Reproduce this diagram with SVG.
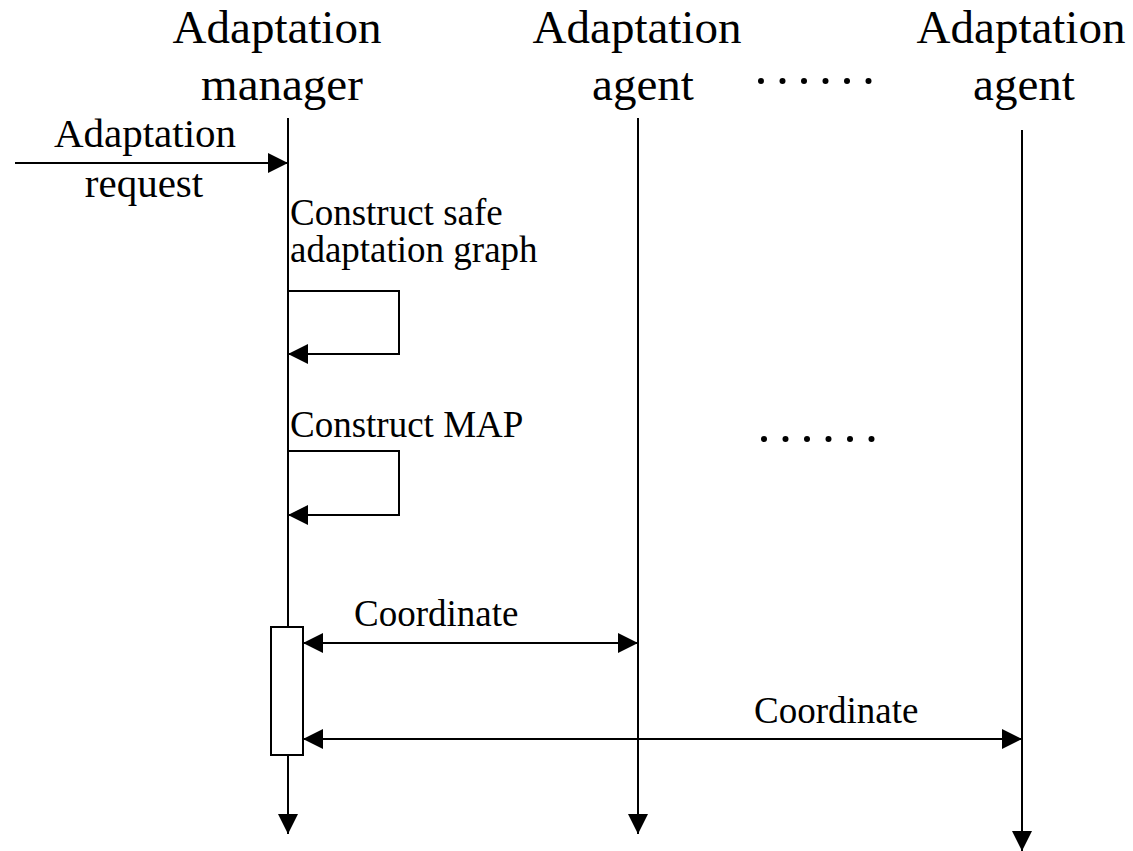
<svg xmlns="http://www.w3.org/2000/svg" width="1133" height="851" viewBox="0 0 1133 851">
<style>
text{font-family:"Liberation Serif","Times New Roman",serif;fill:#000}
.h{font-size:47px;text-anchor:middle}
.s{font-size:37px}
.r{font-size:41px;text-anchor:middle}
.ln{stroke:#000;stroke-width:2;fill:none}
</style>
<defs>
<marker id="ah" markerUnits="userSpaceOnUse" markerWidth="20" markerHeight="20" refX="20" refY="10" orient="auto-start-reverse" viewBox="0 0 20 20">
<path d="M0,0 L20,10 L0,20 z" fill="#000"/>
</marker>
<g id="dots"><circle cx="0" cy="0" r="3"/><circle cx="21.5" cy="0" r="3"/><circle cx="43" cy="0" r="3"/><circle cx="64.5" cy="0" r="3"/><circle cx="86" cy="0" r="3"/><circle cx="107.5" cy="0" r="3"/></g>
</defs>
<rect width="1133" height="851" fill="#fff"/>
<g id="manager">
<text class="h" x="277" y="43">Adaptation</text>
<text class="h" x="282" y="100">manager</text>
</g>
<g id="agent1">
<text class="h" x="637" y="43">Adaptation</text>
<text class="h" x="643" y="100">agent</text>
</g>
<g id="agent2">
<text class="h" x="1021" y="43">Adaptation</text>
<text class="h" x="1024" y="100">agent</text>
</g>
<g id="ellipsis-top"><use href="#dots" x="761" y="81"/></g>
<g id="ellipsis-mid"><use href="#dots" x="764" y="439"/></g>
<g id="connectors">
<line class="ln" x1="288" y1="118" x2="288" y2="834" marker-end="url(#ah)"/>
<line class="ln" x1="638" y1="118" x2="638" y2="834" marker-end="url(#ah)"/>
<line class="ln" x1="1022" y1="130" x2="1022" y2="851" marker-end="url(#ah)"/>
<line class="ln" x1="15" y1="163" x2="288" y2="163" marker-end="url(#ah)"/>
<polyline class="ln" points="288,291 399,291 399,354 288,354" marker-end="url(#ah)"/>
<polyline class="ln" points="288,451 399,451 399,515 288,515" marker-end="url(#ah)"/>
<line class="ln" x1="303" y1="643" x2="638" y2="643" marker-start="url(#ah)" marker-end="url(#ah)"/>
<line class="ln" x1="303" y1="739" x2="1022" y2="739" marker-start="url(#ah)" marker-end="url(#ah)"/>
</g>
<g id="activation">
<rect x="271" y="627" width="32" height="128" fill="#fff" stroke="#000" stroke-width="2"/>
</g>
<g id="labels">
<text class="r" x="145" y="147">Adaptation</text>
<text class="r" x="144" y="197">request</text>
<text class="s" x="290" y="225">Construct safe</text>
<text class="s" x="290" y="262">adaptation graph</text>
<text class="s" x="290" y="437">Construct MAP</text>
<text class="s" x="354" y="626">Coordinate</text>
<text class="s" x="754" y="723">Coordinate</text>
</g>
</svg>
